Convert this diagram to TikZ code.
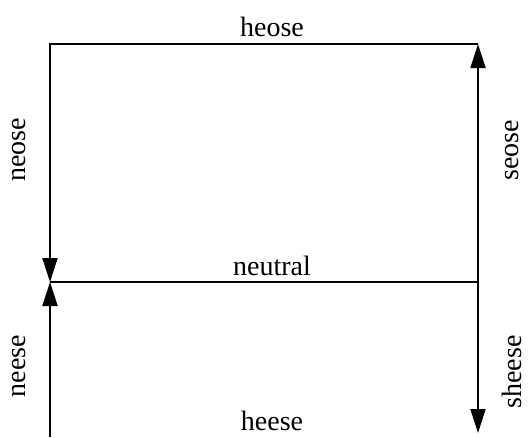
\documentclass[tikz,border=0pt]{standalone}
\usepackage{fontspec}
\setmainfont{Liberation Serif}
\usetikzlibrary{arrows.meta}
\begin{document}
\begin{tikzpicture}[x=1pt,y=-1pt,
  edge/.style={line width=1.8pt},
  arr/.style={edge,-{Triangle[length=24pt,width=15pt]}},
  lab/.style={font=\fontsize{28}{28}\selectfont,inner sep=0pt},
  vlab/.style={lab,rotate=90}]
\useasboundingbox (0,0) rectangle (528,437);
\coordinate (TL) at (50,44);
\coordinate (TR) at (478,44);
\coordinate (ML) at (50,282);
\coordinate (MR) at (478,282);
\coordinate (BL) at (50,437);
\coordinate (BR) at (478,433);
\draw[arr] (TR) -- (TL) -- (ML);
\draw[arr] (MR) -- (TR);
\draw[arr] (MR) -- (BR);
\draw[edge] (ML) -- (MR);
\draw[arr] (BL) -- (ML);
\node[lab] (heose) at (272,27) {heose};
\node[lab] (neutral) at (272,266) {neutral};
\node[lab] (heese) at (272,421) {heese};
\node[vlab] (neose) at (19,150) {neose};
\node[vlab] (seose) at (512,150) {seose};
\node[vlab] (neese) at (19,366) {neese};
\node[vlab] (sheese) at (512,372) {sheese};
\end{tikzpicture}
\end{document}
